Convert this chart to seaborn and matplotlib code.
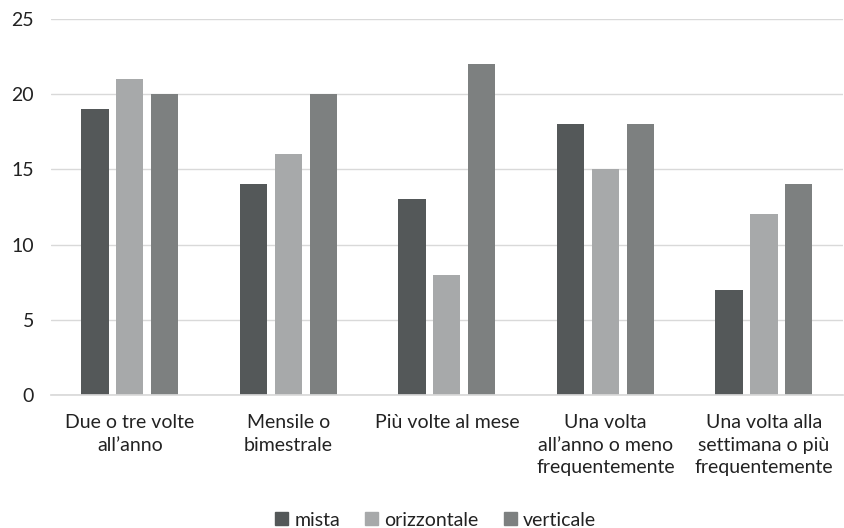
import matplotlib
matplotlib.use("Agg")
import matplotlib.pyplot as plt
import seaborn as sns
import pandas as pd

categories = ["Due o tre volte\nall\u2019anno", "Mensile o\nbimestrale", "Pi\u00f9 volte al mese",
              "Una volta\nall\u2019anno o meno\nfrequentemente",
              "Una volta alla\nsettimana o pi\u00f9\nfrequentemente"]
series = ["mista", "orizzontale", "verticale"]
mista = [19, 14, 13, 18, 7]
orizzontale = [21, 16, 8, 15, 12]
verticale = [20, 20, 22, 18, 14]
colors = ["#545859", "#a7a9aa", "#7d8080"]

rows = []
for s, vals in zip(series, [mista, orizzontale, verticale]):
    for c, v in zip(categories, vals):
        rows.append({"cat": c, "serie": s, "val": v})
df = pd.DataFrame(rows)

sns.set_theme(style="white")
plt.rcParams['font.family'] = ['Lato', 'DejaVu Sans']

FS = 14
fig = plt.figure(figsize=(8.44, 5.28), dpi=100)
ax = fig.add_axes([0.060, 0.252, 0.939, 0.712])
sns.barplot(data=df, x="cat", y="val", hue="serie", hue_order=series, order=categories,
            palette=colors, width=0.66, gap=0.22, ax=ax, saturation=1, linewidth=0,
            legend=True)
ax.set_ylim(0, 25)
ax.set_yticks([0, 5, 10, 15, 20, 25])
ax.set_xlim(-0.5, 4.5)
ax.grid(axis="y", color="#d9d9d9", linewidth=1)
ax.set_axisbelow(True)
for sp in ["top", "right", "left"]:
    ax.spines[sp].set_visible(False)
ax.spines["bottom"].set_color("#d9d9d9")
ax.tick_params(axis="both", length=0, labelsize=FS, colors="#222222")
ax.tick_params(axis="y", pad=12)
ax.tick_params(axis="x", pad=14)
ax.set_xlabel("")
ax.set_ylabel("")
for t in ax.get_xticklabels():
    t.set_linespacing(1.38)

ax.legend_.remove()
handles = [plt.Rectangle((0, 0), 1, 1, color=c) for c in colors]
fig.legend(handles, series, loc="center", bbox_to_anchor=(0.516, 0.015), ncol=3, frameon=False,
           fontsize=FS, handlelength=0.67, handleheight=0.67, handletextpad=0.3,
           columnspacing=1.3, labelcolor="#222222", borderaxespad=0, borderpad=0)
fig.savefig("out.png", dpi=100)
